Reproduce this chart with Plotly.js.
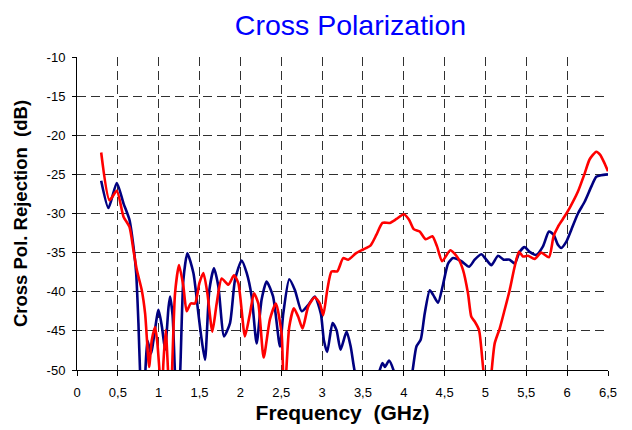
<!DOCTYPE html>
<html>
<head>
<meta charset="utf-8">
<script src="https://cdn.plot.ly/plotly-3.0.1.min.js"></script>
<style>html,body{margin:0;padding:0;background:#fff;}#chart{width:632px;height:430px;}</style>
</head>
<body>
<div id="chart"></div>
<script>
const freqBlue = [0.296,0.385,0.487,0.569,0.642,0.691,0.724,0.752,0.773,0.80,0.835,0.862,0.905,0.997,1.04,1.078,1.12,1.139,1.17,1.20,1.23,1.262,1.302,1.351,1.425,1.486,1.527,1.567,1.62,1.677,1.73,1.80,1.873,1.934,2.015,2.077,2.138,2.199,2.26,2.321,2.40,2.484,2.525,2.598,2.668,2.75,2.83,2.91,2.985,3.022,3.063,3.128,3.177,3.226,3.30,3.35,3.40,3.55,3.70,3.74,3.77,3.82,3.88,4.0,4.106,4.155,4.208,4.256,4.318,4.36,4.42,4.48,4.542,4.603,4.705,4.8,4.868,4.95,5.01,5.072,5.154,5.223,5.296,5.357,5.418,5.479,5.541,5.622,5.704,5.777,5.834,5.887,5.928,5.99,6.05,6.132,6.214,6.294,6.356,6.417,6.5];
const xpolBlue = [-25.8,-29.3,-26.1,-28.7,-30.8,-34.2,-37.6,-44.0,-50.5,-55,-50.5,-46.2,-47.9,-42.3,-44.5,-47.4,-42,-40.6,-43,-50.5,-55,-50.5,-38.5,-35.1,-37.6,-42.8,-46.2,-48.7,-39.8,-37.0,-39.3,-45.7,-44.0,-38.5,-36.0,-37.6,-40.6,-46.6,-41.0,-38.7,-40.6,-47.0,-42.8,-38.4,-39.8,-42.5,-41.7,-40.6,-42.8,-46.2,-47.7,-44.0,-44.9,-47.4,-45.1,-47.0,-50.2,-56,-50.2,-49.1,-49.6,-48.8,-50.2,-56,-50.2,-47.0,-46.1,-42.8,-39.8,-40.4,-41.4,-39.1,-36.4,-35.7,-36.1,-36.8,-35.9,-35.2,-35.9,-36.6,-35.4,-35.9,-35.9,-36.4,-34.9,-34.3,-34.9,-35.3,-34.2,-32.3,-32.7,-34.0,-34.4,-33.6,-32.1,-30.0,-28.5,-26.6,-25.3,-25.1,-25.0];
const freqRed = [0.296,0.398,0.487,0.569,0.642,0.691,0.732,0.793,0.834,0.883,0.915,0.956,0.984,1.017,1.04,1.058,1.086,1.119,1.14,1.16,1.2,1.249,1.302,1.343,1.392,1.445,1.498,1.547,1.596,1.657,1.71,1.771,1.853,1.922,1.975,2.056,2.117,2.166,2.219,2.285,2.362,2.435,2.504,2.525,2.541,2.557,2.598,2.655,2.708,2.761,2.83,2.91,2.973,3.014,3.063,3.116,3.186,3.258,3.32,3.413,3.503,3.592,3.666,3.739,3.829,3.911,4.0,4.065,4.122,4.195,4.269,4.35,4.407,4.47,4.57,4.664,4.725,4.786,4.827,4.868,4.921,4.962,4.978,5.02,5.072,5.113,5.174,5.235,5.296,5.357,5.41,5.459,5.52,5.602,5.683,5.777,5.834,5.887,5.948,6.03,6.132,6.214,6.274,6.356,6.405,6.458,6.5];
const xpolRed = [-22.2,-28.3,-27.1,-30.4,-31.7,-34.7,-37.2,-39.8,-42.8,-49.6,-46.2,-44.5,-46.6,-51,-53,-49,-44.9,-51,-54,-51,-40.2,-36.6,-39.3,-42.5,-41.5,-41.5,-38.9,-37.6,-40.2,-45.1,-41.5,-38.3,-39.1,-37.9,-38.9,-45.7,-42.8,-40.2,-41.5,-48.4,-43.5,-41.5,-45.3,-51,-53,-51,-44.5,-42.1,-43.2,-44.7,-41.9,-40.7,-41.5,-43.0,-39.8,-37.4,-37.4,-35.7,-35.9,-35.1,-34.6,-34.1,-32.7,-31.2,-31.2,-30.7,-30.1,-30.8,-32.0,-32.3,-33.3,-32.9,-34.2,-36.1,-34.7,-35.7,-37.2,-40.2,-43.2,-43.8,-44.9,-48.7,-50.5,-56,-50.5,-46.6,-44.7,-42.3,-39.8,-36.8,-34.9,-35.5,-35.4,-35.8,-35.0,-35.6,-32.9,-31.7,-30.7,-29.3,-27.2,-24.9,-23.1,-22.1,-22.5,-23.6,-24.6];

const xTickVals = [0,0.5,1,1.5,2,2.5,3,3.5,4,4.5,5,5.5,6,6.5];
const xTickText = ['0','0,5','1','1,5','2','2,5','3','3,5','4','4,5','5','5,5','6','6,5'];
const yTickVals = [-10,-15,-20,-25,-30,-35,-40,-45,-50];
const yTickText = ['-10','-15','-20','-25','-30','-35','-40','-45','-50'];

const font = 'Liberation Sans, Arial, sans-serif';
const traces = [
  {x: freqBlue, y: xpolBlue, type: 'scatter', mode: 'lines',
   line: {color: '#000080', width: 2.6, shape: 'spline', smoothing: 0.6}, hoverinfo: 'skip'},
  {x: freqRed, y: xpolRed, type: 'scatter', mode: 'lines',
   line: {color: '#ff0000', width: 2.6, shape: 'spline', smoothing: 0.6}, hoverinfo: 'skip'}
];
const gridStyle = {showgrid: true, gridcolor: '#303030', gridwidth: 1, griddash: '9px,5px'};
const layout = {
  width: 632, height: 430,
  margin: {l: 77, r: 24, t: 57, b: 60},
  paper_bgcolor: '#fff', plot_bgcolor: '#fff',
  showlegend: false,
  font: {family: font, color: '#000'},
  title: {text: 'Cross Polarization', font: {family: font, size: 28.5, color: '#0000ff'},
          x: 0.515, xref: 'paper', xanchor: 'center', y: 0.941, yref: 'container', yanchor: 'middle'},
  xaxis: Object.assign({range: [0, 6.5], tickvals: xTickVals, ticktext: xTickText, tickfont: {size: 13, color: '#000'},
          showline: true, linecolor: '#000', linewidth: 1, ticks: 'outside', ticklen: 5, tickcolor: '#000',
          ticklabelstandoff: 5, zeroline: false, fixedrange: true,
          title: {text: '<b>Frequency  (GHz)</b>', font: {family: font, size: 21, color: '#000'}, standoff: 6}}, gridStyle),
  yaxis: Object.assign({range: [-50, -10], tickvals: yTickVals, ticktext: yTickText, tickfont: {size: 13, color: '#000'},
          showline: true, linecolor: '#000', linewidth: 1, ticks: 'outside', ticklen: 4, tickcolor: '#000',
          ticklabelstandoff: 4, zeroline: false, fixedrange: true,
          title: {text: '<b>Cross Pol. Rejection  (dB)</b>', font: {family: font, size: 18.5, color: '#000'}, standoff: 14}}, gridStyle),
  xaxis2: {range: [0, 6.5], overlaying: 'x', anchor: 'y', side: 'bottom', tickvals: xTickVals, showticklabels: false,
           ticks: 'inside', ticklen: 5, tickcolor: '#000', showgrid: false, zeroline: false, showline: false, fixedrange: true},
  yaxis2: {range: [-50, -10], overlaying: 'y', anchor: 'x', side: 'left', tickvals: yTickVals, showticklabels: false,
           ticks: 'inside', ticklen: 4, tickcolor: '#000', showgrid: false, zeroline: false, showline: false, fixedrange: true}
};
Plotly.newPlot('chart', traces, layout, {staticPlot: true, displayModeBar: false});
</script>
</body>
</html>
